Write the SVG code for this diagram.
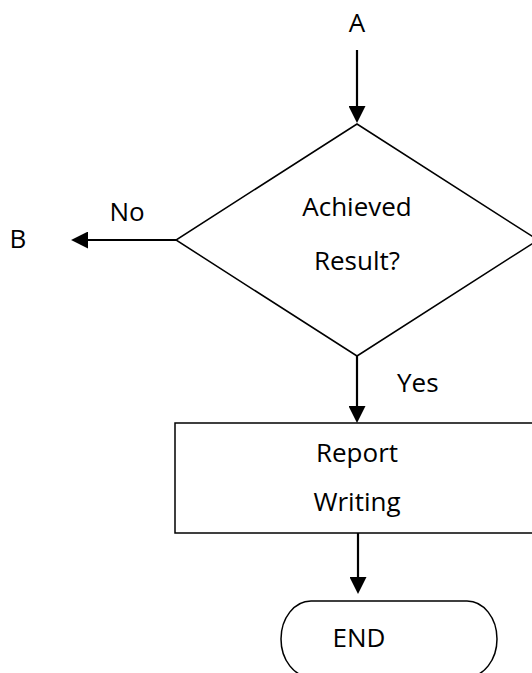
<svg xmlns="http://www.w3.org/2000/svg" width="532" height="673" viewBox="0 0 532 673">
<style>
  text { font-family: "Open Sans", "Noto Sans", "Liberation Sans", sans-serif; font-size: 26px; fill: #000; }
  .mid { text-anchor: middle; }
  .shape { fill: #fff; stroke: #000; stroke-width: 1.5; }
  .conn { stroke: #000; stroke-width: 2.2; fill: none; }
</style>
<defs>
  <marker id="arr" markerUnits="userSpaceOnUse" markerWidth="17" markerHeight="17" viewBox="0 0 16 16" refX="1" refY="8" orient="auto">
    <path d="M0,0 L16,8 L0,16 z" fill="#000"/>
  </marker>
</defs>
<rect width="532" height="673" fill="#fff"/>
<g id="labels">
  <text class="mid" x="357" y="32">A</text>
  <text class="mid" x="18" y="248">B</text>
  <text class="mid" x="127" y="221">No</text>
  <text x="397" y="392">Yes</text>
</g>
<g id="decision">
  <polygon class="shape" points="357,124 538,240 357,356 176,240"/>
  <text class="mid" x="357" y="216">Achieved</text>
  <text class="mid" x="357" y="270">Result?</text>
</g>
<g id="report">
  <rect class="shape" x="175" y="423" width="380" height="110" stroke-width="2"/>
  <text class="mid" x="357" y="462">Report</text>
  <text class="mid" x="357" y="511">Writing</text>
</g>
<g id="end">
  <rect class="shape" x="281" y="601" width="216" height="76" rx="30" ry="38" stroke-width="2"/>
  <text class="mid" x="359" y="647">END</text>
</g>
<g id="connectors">
  <line class="conn" x1="357" y1="50" x2="357" y2="107" marker-end="url(#arr)"/>
  <line class="conn" x1="176" y1="240" x2="87" y2="240" marker-end="url(#arr)"/>
  <line class="conn" x1="357" y1="356" x2="357" y2="407" marker-end="url(#arr)"/>
  <line class="conn" x1="358" y1="533" x2="358" y2="578" marker-end="url(#arr)"/>
</g>
</svg>
